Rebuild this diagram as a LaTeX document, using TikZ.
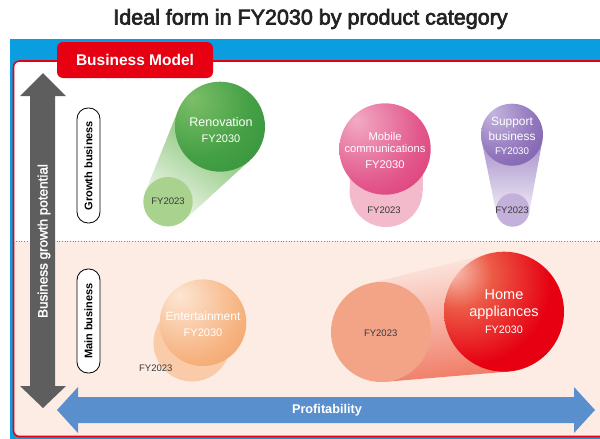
\documentclass[tikz,border=0pt]{standalone}
\usepackage{fontspec}
\setmainfont{Liberation Sans}
\newfontfamily\titlefont{Liberation Sans}[FakeBold=3]
\newfontfamily\medfont{Liberation Sans}[FakeBold=2]
\usetikzlibrary{shadings}
\definecolor{bandblue}{HTML}{0A9EE0}
\definecolor{brandred}{HTML}{E60012}
\definecolor{lowpink}{HTML}{FDECE4}
\definecolor{arrowgray}{HTML}{5E5E5E}
\definecolor{arrowblue}{HTML}{5A8FCE}
\definecolor{titlegray}{HTML}{222222}
\definecolor{darktext}{HTML}{3A3A3A}
% sphere colours
\definecolor{renA}{HTML}{7CBF68}\definecolor{renB}{HTML}{45A045}\definecolor{renC}{HTML}{2A8A38}
\definecolor{renSmall}{HTML}{A8D28E}
\definecolor{mobA}{HTML}{F2AAC4}\definecolor{mobB}{HTML}{E2588C}\definecolor{mobC}{HTML}{D81E64}
\definecolor{mobSmall}{HTML}{F2BACA}
\definecolor{supA}{HTML}{C4B6DE}\definecolor{supB}{HTML}{9074BC}\definecolor{supC}{HTML}{6C4CA0}
\definecolor{supSmall}{HTML}{C3B1DC}
\definecolor{entA}{HTML}{FDE6D3}\definecolor{entB}{HTML}{F6B27F}\definecolor{entC}{HTML}{EE9046}
\definecolor{entSmall}{HTML}{F9CBA8}
\definecolor{homA}{HTML}{F8C6B6}\definecolor{homB}{HTML}{EC5A46}\definecolor{homC}{HTML}{E60012}
\definecolor{homSmall}{HTML}{F3A486}
\definecolor{homCone}{HTML}{F07A64}
\pgfdeclareradialshading{shRen}{\pgfpoint{-16bp}{16bp}}{color(0bp)=(renA); color(28bp)=(renB); color(60bp)=(renC); color(100bp)=(renC)}
\pgfdeclareradialshading{shMob}{\pgfpoint{-16bp}{16bp}}{color(0bp)=(mobA); color(30bp)=(mobB); color(62bp)=(mobC); color(100bp)=(mobC)}
\pgfdeclareradialshading{shSup}{\pgfpoint{-16bp}{18bp}}{color(0bp)=(supA); color(30bp)=(supB); color(62bp)=(supC); color(100bp)=(supC)}
\pgfdeclareradialshading{shEnt}{\pgfpoint{-14bp}{16bp}}{color(0bp)=(entA); color(32bp)=(entB); color(62bp)=(entC); color(100bp)=(entC)}
\pgfdeclareradialshading{shHom}{\pgfpoint{-22bp}{18bp}}{color(0bp)=(homA); color(14bp)=(homB); color(34bp)=(homC); color(100bp)=(homC)}
\tikzset{
  bubble/.style={circle, inner sep=0pt, outer sep=0pt, draw=none},
  lbl/.style={text=white, align=center, inner sep=0pt},
  oldlbl/.style={text=darktext, inner sep=0pt, font=\fontsize{9.5}{11}\selectfont},
  pill/.style={draw=black, line width=0.8pt, fill=white, rounded corners=11pt},
  pilltext/.style={rotate=90, font=\bfseries\fontsize{11}{13}\selectfont, inner sep=0pt}
}
\begin{document}
\begin{tikzpicture}[x=1pt,y=-1pt]
\useasboundingbox (0,0) rectangle (600,439);
\fill[white] (0,0) rectangle (600,439);
% title
\node[text=titlegray, font=\titlefont\fontsize{21.5}{24}\selectfont, inner sep=0pt] (title) at (310.5,19) {Ideal form in FY2030 by product category};
% blue band and panel
\fill[bandblue] (10,39) rectangle (600,438.5);
\fill[white, rounded corners=6pt] (13.5,61) rectangle (612,436.5);
\begin{scope}
  \clip[rounded corners=6pt] (13.5,61) rectangle (612,436.5);
  \fill[lowpink] (0,241) rectangle (612,440);
\end{scope}
\draw[brandred, line width=1.6pt, rounded corners=6pt] (13.5,61) rectangle (612,436.5);
\draw[gray, dotted, line width=0.7pt] (16,241) -- (600,241);
% tab
\node[fill=brandred, rounded corners=6pt, minimum width=156pt, minimum height=36pt, inner sep=0pt,
      text=white, font=\bfseries\fontsize{15.5}{18}\selectfont] (tab) at (135,60) {Business Model};
% vertical arrow
\fill[arrowgray] (43,73) -- (66,96) -- (55,96) -- (55,386) -- (66,386) -- (43,408) -- (20,386) -- (30,386) -- (30,96) -- (20,96) -- cycle;
\node[rotate=90, text=white, font=\medfont\fontsize{13.5}{16}\selectfont, inner sep=0pt] (growth) at (44,241) {Business growth potential};
% horizontal arrow
\fill[arrowblue] (57,410) -- (78,387) -- (78,397) -- (574,397) -- (574,387) -- (595,410) -- (574,433) -- (574,423) -- (78,423) -- (78,433) -- cycle;
\node[text=white, font=\bfseries\fontsize{12.7}{15}\selectfont, inner sep=0pt] (profit) at (327,410) {Profitability};
% pills
\draw[pill] (77,108) rectangle (100,223);
\node[pilltext] (growthbiz) at (88.5,165.5) {Growth business};
\draw[pill] (77,269) rectangle (100,373);
\node[pilltext] (mainbiz) at (88.5,321) {Main business};
% ---- Renovation
\shade[top color=renA!85!renB, bottom color=renSmall!20!white, shading angle=-35]
  (184.7,219.9) -- (250.3,159.9) -- (178.3,109.9) -- (145.1,192.5) -- cycle;
\node[bubble, fill=renSmall, minimum size=49.4pt] (ren23) at (168,201.7) {};
\node[bubble, shade, shading=shRen, minimum size=90pt] (ren30) at (220,126.7) {};
\node[oldlbl] (ren23t) at (ren23) {FY2023};
\node[lbl, font=\fontsize{12.5}{16.6}\selectfont] (ren30t) at (221,130) {Renovation\\{\fontsize{11}{13}\selectfont FY2030}};
% ---- Mobile communications
\fill[mobSmall] (349.5,149) rectangle (422.5,190.5);
\node[bubble, fill=mobSmall, minimum size=73pt] (mob23) at (386,190.5) {};
\node[bubble, shade, shading=shMob, minimum size=91.4pt] (mob30) at (385,149) {};
\node[oldlbl] (mob23t) at (384,210) {FY2023};
\node[lbl, font=\fontsize{11.2}{12.3}\selectfont] (mob30t) at (385,150.5) {Mobile\\communications\\[3.5pt]FY2030};
% ---- Support business
\shade[top color=supB!80!white, bottom color=supSmall!25!white]
  (529.1,213.2) -- (542.4,140.6) -- (481.6,140.6) -- (496.3,213.2) -- cycle;
\node[bubble, fill=supSmall, minimum size=33.4pt] (sup23) at (512.7,210) {};
\node[bubble, shade, shading=shSup, minimum size=62pt] (sup30) at (512,134.7) {};
\node[oldlbl] (sup23t) at (512,210.3) {FY2023};
\node[lbl, font=\fontsize{11.9}{14.3}\selectfont] (sup30t) at (512,136) {Support\\business\\{\fontsize{9.7}{11}\selectfont FY2030}};
% ---- Entertainment
\node[bubble, fill=entSmall, minimum size=77pt] (ent23) at (192,343) {};
\node[bubble, shade, shading=shEnt, minimum size=86.6pt] (ent30) at (203,322.7) {};
\node[oldlbl] (ent23t) at (155.8,368.3) {FY2023};
\node[lbl, font=\fontsize{12}{15.7}\selectfont] (ent30t) at (203,324.5) {Entertainment\\{\fontsize{11}{13}\selectfont FY2030}};
% ---- Home appliances
\shade[left color=homSmall!20!white, right color=homCone, shading angle=9]
  (385.2,381.8) -- (509,371.5) -- (489.5,253.5) -- (368.9,283.5) -- cycle;
\node[bubble, fill=homSmall, minimum size=100pt] (hom23) at (381,332) {};
\node[bubble, shade, shading=shHom, minimum size=120pt] (hom30) at (504,311.7) {};
\node[oldlbl] (hom23t) at (380.7,333.3) {FY2023};
\node[lbl, font=\fontsize{14.5}{16.9}\selectfont] (hom30t) at (504,311.5) {Home\\appliances\\{\fontsize{10.8}{13}\selectfont FY2030}};
\end{tikzpicture}
\end{document}
